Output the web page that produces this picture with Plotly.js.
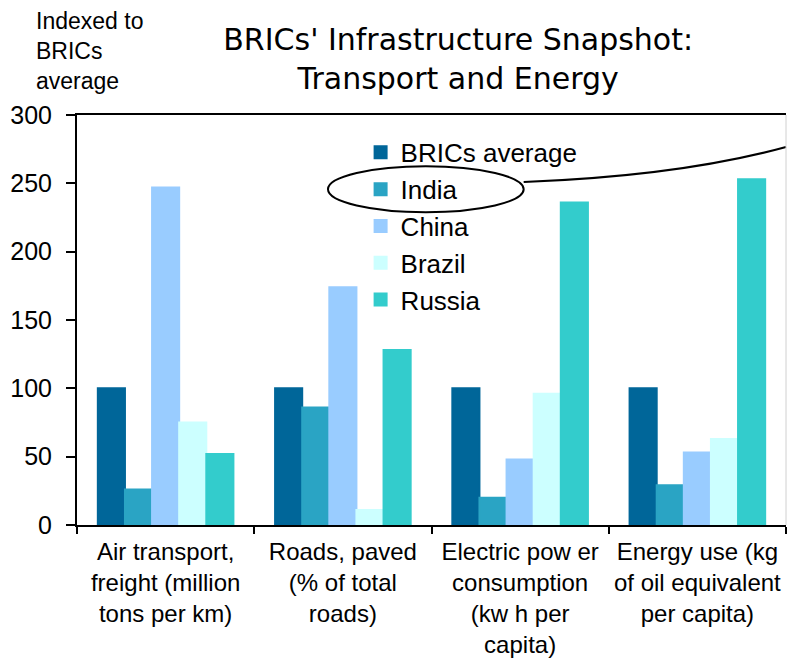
<!DOCTYPE html>
<html>
<head>
<meta charset="utf-8">
<script src="https://cdn.plot.ly/plotly-3.0.1.min.js"></script>
<style>
  html, body { margin: 0; padding: 0; background: #fff; }
  #chart { width: 790px; height: 664px; }
</style>
</head>
<body>
<div id="chart"></div>
<script>
// categorías del eje x
var categorias = [
  'Air transport,<br>freight (million<br>tons per km)',
  'Roads, paved<br>(% of total<br>roads)',
  'Electric pow er<br>consumption<br>(kw h per<br>capita)',
  'Energy use (kg<br>of oil equivalent<br>per capita)'
];

// series (índice, promedio BRICs = 100)
var bricsPromedio = [100, 100, 100, 100];
var india = [26, 86, 20, 29];
var china = [247, 174, 48, 53];
var brasil = [75, 11, 96, 63];
var rusia = [52, 128, 236, 253];

var nombres = ['BRICs average', 'India', 'China', 'Brazil', 'Russia'];
var colores = ['#006699', '#2AA4C4', '#99CCFF', '#CCFFFF', '#33CCCC'];
var series = [bricsPromedio, india, china, brasil, rusia];

var ticksY = [0, 50, 100, 150, 200, 250, 300];

var trazas = series.map(function(valores, i) {
  return {
    x: categorias,
    y: valores,
    type: 'bar',
    name: nombres[i],
    // el borde del mismo color agranda el cuadrito de la leyenda
    marker: { color: colores[i], line: { width: 2, color: colores[i] } },
    hoverinfo: 'y+name'
  };
});

var fuente = 'Liberation Sans, Arial, sans-serif';

var layout = {
  width: 790,
  height: 664,
  margin: { l: 77, r: 4, t: 115, b: 139 },
  paper_bgcolor: '#fff',
  plot_bgcolor: '#fff',
  barmode: 'group',
  bargap: 0.235,
  bargroupgap: 0,
  title: {
    text: "BRICs' Infrastructure Snapshot:<br>Transport and Energy",
    font: { family: 'DejaVu Sans, sans-serif', size: 30, color: '#000' },
    x: 0.58, xanchor: 'center', xref: 'container',
    y: 0.924, yanchor: 'top', yref: 'container'
  },
  xaxis: {
    type: 'category',
    showline: true, linecolor: '#000', linewidth: 2,
    mirror: true,
    ticks: 'outside', tickson: 'boundaries', ticklen: 7, tickwidth: 2, tickcolor: '#000',
    ticklabelstandoff: 4,
    showgrid: false, zeroline: false,
    tickangle: 0,
    tickfont: { family: fuente, size: 24, color: '#000' }
  },
  yaxis: {
    range: [0, 300],
    tickvals: ticksY,
    showline: true, linecolor: '#000', linewidth: 2,
    ticks: 'outside', ticklen: 9, tickwidth: 2, tickcolor: '#000',
    ticklabelstandoff: 9,
    showgrid: false, zeroline: false,
    tickfont: { family: fuente, size: 25, color: '#000' }
  },
  showlegend: true,
  legend: {
    x: 0.40, y: 0.966, xanchor: 'left', yanchor: 'top',
    bgcolor: 'rgba(0,0,0,0)',
    font: { family: fuente, size: 26, color: '#000' },
    traceorder: 'normal'
  },
  annotations: [{
    text: 'Indexed to<br>BRICs<br>average',
    xref: 'paper', yref: 'paper',
    x: -0.0605, y: 1.265, xanchor: 'left', yanchor: 'top',
    align: 'left', showarrow: false,
    font: { family: fuente, size: 23, color: '#000' }
  }],
  shapes: [
    {
      type: 'circle', xref: 'paper', yref: 'paper',
      x0: 0.354, x1: 0.630, y0: 0.763, y1: 0.875,
      line: { color: '#000', width: 2 }
    },
    {
      type: 'path', xref: 'paper', yref: 'paper',
      path: 'M 0.630 0.8366 Q 0.850 0.851 1.0 0.922',
      line: { color: '#000', width: 2 }
    },
    {
      type: 'line', xref: 'paper', yref: 'paper',
      x0: 1, x1: 1, y0: 0, y1: 1,
      line: { color: '#d0d0d0', width: 1 }
    }
  ]
};

Plotly.newPlot('chart', trazas, layout, { displayModeBar: false, staticPlot: true });
</script>
</body>
</html>
